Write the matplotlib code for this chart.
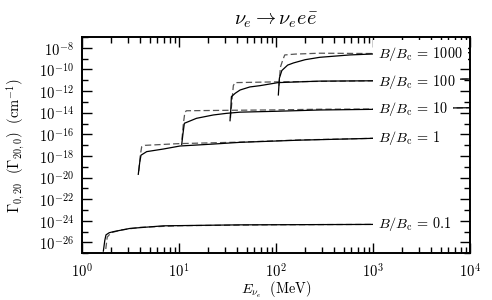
import numpy as np
import matplotlib
matplotlib.use('Agg')
from matplotlib import pyplot as plt
from matplotlib.ticker import FixedLocator, FuncFormatter

plt.rcParams['mathtext.fontset'] = 'cm'
plt.rcParams['font.family'] = 'serif'
plt.rcParams['font.serif'] = ['cmr10', 'DejaVu Serif']
plt.rcParams['axes.formatter.use_mathtext'] = True

# field strengths B/Bc
fields = ['0.1', '1', '10', '100', '1000']

# log10(E / MeV) and log10(Gamma / cm^-1)
solid_logE = {
    '0.1': [0.22, 0.235, 0.247, 0.28, 0.323, 0.495, 0.84, 1.63, 3.0],
    '1': [0.58, 0.595, 0.608, 0.667, 0.838, 1.01, 1.354, 1.63, 2.24, 3.0],
    '10': [1.028, 1.04, 1.055, 1.18, 1.354, 1.49, 1.63, 2.0, 2.45, 3.0, 3.5, 4.0],
    '100': [1.526, 1.535, 1.54, 1.58, 1.63, 1.73, 1.835, 2.02, 2.45, 3.0, 4.0],
    '1000': [2.024, 2.035, 2.06, 2.12, 2.18, 2.3, 2.45, 2.76, 3.0, 4.0],
}
solid_logG = {
    '0.1': [-26.8, -25.8, -25.3, -25.1, -25.0, -24.7, -24.46, -24.37, -24.33],
    '1': [-19.7, -18.6, -17.93, -17.6, -17.36, -17.08, -16.9, -16.74, -16.54, -16.37],
    '10': [-16.93, -16.0, -14.98, -14.52, -14.21, -14.06, -13.95, -13.87, -13.75, -13.69, -13.6, -13.54],
    '100': [-14.74, -13.5, -12.52, -12.2, -11.9, -11.62, -11.5, -11.22, -11.08, -11.05, -10.88],
    '1000': [-12.36, -10.8, -10.1, -9.6, -9.4, -9.1, -8.88, -8.66, -8.57, -8.45],
}
dashed_logE = {
    '0.1': [0.245, 0.26, 0.3, 0.4, 0.6, 1.0, 2.0, 3.0],
    '1': [0.585, 0.60, 0.615, 0.65, 0.8, 1.0, 1.63, 2.24, 3.0],
    '10': [1.03, 1.045, 1.06, 1.075, 1.5, 2.0, 2.45, 3.0, 4.0],
    '100': [1.53, 1.545, 1.56, 1.577, 2.0, 3.0, 4.0],
    '1000': [2.03, 2.045, 2.07, 2.09, 2.2, 2.45, 3.0, 4.0],
}
dashed_logG = {
    '0.1': [-26.6, -25.5, -25.1, -24.85, -24.6, -24.45, -24.36, -24.33],
    '1': [-19.4, -18.0, -17.15, -17.02, -16.95, -16.86, -16.72, -16.52, -16.37],
    '10': [-16.5, -15.0, -14.0, -13.82, -13.78, -13.74, -13.68, -13.66, -13.54],
    '100': [-14.5, -13.0, -11.5, -11.22, -11.15, -11.05, -10.88],
    '1000': [-11.5, -9.8, -9.12, -8.66, -8.58, -8.5, -8.53, -8.45],
}
# label heights (log10 Gamma at 1 GeV)
label_logG = {'0.1': -24.33, '1': -16.37, '10': -13.69, '100': -11.12, '1000': -8.57}

fig = plt.figure(figsize=(4.92, 3.0), dpi=100)
ax = fig.add_axes([0.1667, 0.1557, 0.7886, 0.721])

for b in fields:
    ax.plot(10.0 ** np.array(dashed_logE[b]), 10.0 ** np.array(dashed_logG[b]),
            color='#555555', lw=0.9, ls=(0, (5, 2.5)), zorder=2)
    ax.plot(10.0 ** np.array(solid_logE[b]), 10.0 ** np.array(solid_logG[b]),
            color='black', lw=0.9, zorder=3)
    ax.text(1.12e3, 10.0 ** label_logG[b], r'$B/B_\mathrm{c}$ = %s' % b,
            fontsize=10.3, ha='left', va='center', zorder=5,
            bbox=dict(boxstyle='square,pad=0.35', fc='white', ec='none'))

ax.set_xscale('log')
ax.set_yscale('log')
ax.set_xlim(1, 1e4)
ax.set_ylim(1e-27, 1e-7)

ax.yaxis.set_major_locator(FixedLocator([10.0 ** k for k in range(-26, -7, 2)]))
ax.yaxis.set_minor_locator(FixedLocator([10.0 ** k for k in range(-27, -6, 2)]))
ax.xaxis.set_major_locator(FixedLocator([10.0 ** k for k in range(0, 5)]))
ax.xaxis.set_minor_locator(FixedLocator([m * 10.0 ** k for k in range(0, 4) for m in range(2, 10)]))

fmt = FuncFormatter(lambda v, pos: r'$10^{%d}$' % int(round(np.log10(v))))
ax.xaxis.set_major_formatter(fmt)
ax.yaxis.set_major_formatter(fmt)
ax.yaxis.set_minor_formatter(FuncFormatter(lambda v, pos: ''))
ax.xaxis.set_minor_formatter(FuncFormatter(lambda v, pos: ''))

ax.tick_params(which='both', direction='in', top=True, right=True, labelsize=10.5, width=1.0)
ax.tick_params(which='major', length=7, pad=6)
ax.tick_params(which='minor', length=4)
for s in ax.spines.values():
    s.set_linewidth(1.4)

ax.set_title(r'$\nu_e \to \nu_e e\bar{e}$', fontsize=14.5, pad=9)
ax.set_xlabel(r'$E_{\nu_e}\ \ (\mathrm{MeV})$', fontsize=10.3, labelpad=0)
ax.set_ylabel(r'$\Gamma_{0,20}\ \ (\Gamma_{20,0})\ \ (\mathrm{cm}^{-1})$', fontsize=10.5, labelpad=9)

fig.savefig('out.png', dpi=100)
